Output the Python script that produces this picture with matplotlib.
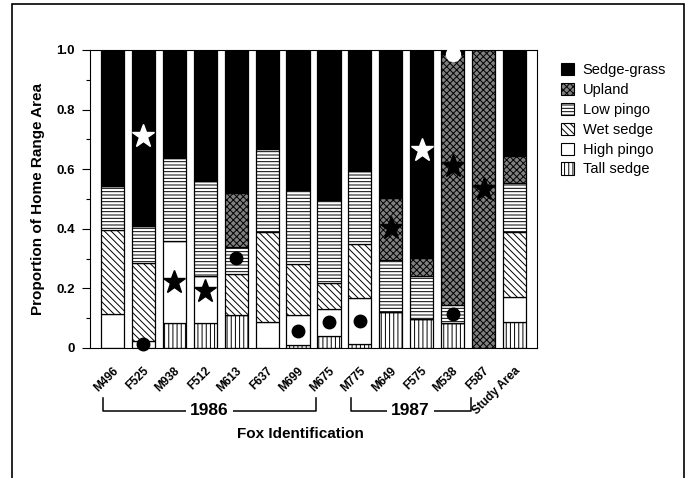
import matplotlib
matplotlib.use("Agg")
import matplotlib.pyplot as plt
from matplotlib.patches import Patch, Rectangle
import numpy as np

plt.rcParams['font.family'] = ['Liberation Sans', 'DejaVu Sans']
plt.rcParams['hatch.linewidth'] = 0.7

# fox ids along the x axis
foxes = ["M496", "F525", "M938", "F512", "M613", "F637", "M699", "M675",
         "M775", "M649", "F575", "M538", "F587", "Study Area"]

# proportion of home range in each habitat (bottom -> top)
tall_sedge  = [0.0, 0.0, 0.083, 0.083, 0.11, 0.0, 0.01, 0.041, 0.013, 0.122, 0.096, 0.085, 0.0, 0.088]
high_pingo  = [0.115, 0.025, 0.276, 0.159, 0.0, 0.088, 0.10, 0.089, 0.156, 0.0, 0.0, 0.0, 0.0, 0.084]
wet_sedge   = [0.28, 0.26, 0.0, 0.0, 0.14, 0.302, 0.172, 0.087, 0.18, 0.0, 0.0, 0.0, 0.0, 0.216]
low_pingo   = [0.15, 0.125, 0.28, 0.32, 0.09, 0.278, 0.248, 0.28, 0.245, 0.173, 0.146, 0.059, 0.0, 0.167]
upland      = [0.0, 0.0, 0.0, 0.0, 0.179, 0.0, 0.0, 0.0, 0.0, 0.209, 0.059, 0.841, 1.0, 0.089]
sedge_grass = [0.455, 0.59, 0.361, 0.438, 0.481, 0.332, 0.47, 0.503, 0.406, 0.496, 0.699, 0.015, 0.0, 0.356]

# symbols drawn on the bars: (bar index, y)
white_stars = [(1, 0.71), (10, 0.666)]
black_stars = [(2, 0.223), (3, 0.192), (9, 0.404), (11, 0.611), (12, 0.532)]
black_dots  = [(1, 0.013), (4, 0.302), (6, 0.057), (7, 0.088), (8, 0.09), (11, 0.114)]
white_dots  = [(11, 0.986)]

years = [("1986", 0, 7), ("1987", 8, 12)]

layers = [
    ("Tall sedge", tall_sedge, "white", "||||"),
    ("High pingo", high_pingo, "white", None),
    ("Wet sedge", wet_sedge, "white", "\\" * 5),
    ("Low pingo", low_pingo, "white", "-----"),
    ("Upland", upland, "0.5", "xxxxx"),
    ("Sedge-grass", sedge_grass, "black", None),
]

fig = plt.figure(figsize=(6.88, 4.78), dpi=100)
ax = fig.add_axes([90 / 688, 1 - 348 / 478, 447 / 688, 298 / 478])

x = np.arange(len(foxes))
bottom = np.zeros(len(foxes))
handles = {}
for name, vals, fc, hatch in layers:
    vals = np.array(vals)
    ax.bar(x, vals, 0.75, bottom=bottom, color=fc, edgecolor="black",
           linewidth=0.9, hatch=hatch)
    handles[name] = Patch(facecolor=fc, edgecolor="black", hatch=hatch, linewidth=0.8)
    bottom += vals

for i, y in white_stars:
    ax.plot(i, y, marker="*", ms=17, mfc="white", mec="white", zorder=5)
for i, y in black_stars:
    ax.plot(i, y, marker="*", ms=17, mfc="black", mec="black", zorder=5)
for i, y in black_dots:
    ax.plot(i, y, marker="o", ms=9, mfc="black", mec="black", zorder=5, clip_on=False)
for i, y in white_dots:
    ax.plot(i, y, marker="o", ms=10, mfc="white", mec="white", zorder=5, clip_on=False)

ax.set_xlim(-0.73, 13.73)
ax.set_ylim(0, 1.0)
ax.set_yticks([0, 0.2, 0.4, 0.6, 0.8, 1.0])
ax.set_yticklabels(["0", "0.2", "0.4", "0.6", "0.8", "1.0"], fontweight="bold", fontsize=9.5)
ax.set_yticks(np.arange(0.1, 1.0, 0.2), minor=True)
ax.tick_params(axis="y", which="major", length=6, width=0.8, direction="out", pad=5)
ax.tick_params(axis="y", which="minor", length=3, width=0.8, direction="out")
ax.set_xticks(x + 0.12)
ax.set_xticklabels(foxes, rotation=45, ha="right", va="center", rotation_mode="anchor",
                   fontweight="bold", fontsize=8.5)
ax.tick_params(axis="x", length=0, pad=15)
for s in ax.spines.values():
    s.set_linewidth(0.8)

ax.set_ylabel("Proportion of Home Range Area", fontweight="bold", fontsize=11)
ax.yaxis.set_label_coords(-0.10, 0.5)

# year brackets under the labels
tr = ax.get_xaxis_transform()
for yr, a, b in years:
    xa, xb = a - 0.3, b - 0.42
    ax.plot([xa, xa, xb, xb], [-0.168, -0.211, -0.211, -0.168], color="black",
            lw=1.1, transform=tr, clip_on=False)
    ax.text((xa + xb) / 2, -0.211, yr, transform=tr, ha="center", va="center",
            fontweight="bold", fontsize=12.5,
            bbox=dict(facecolor="white", edgecolor="none", pad=3))

fig.text(300 / 688, 1 - 434 / 478, "Fox Identification", ha="center", va="center",
         fontweight="bold", fontsize=11)

order = ["Sedge-grass", "Upland", "Low pingo", "Wet sedge", "High pingo", "Tall sedge"]
fig.legend([handles[n] for n in order], order, loc="upper left",
           bbox_to_anchor=(555 / 688, 1 - 57 / 478), frameon=False, fontsize=10.5,
           handlelength=0.9, handleheight=0.9, handletextpad=0.6, labelspacing=0.4,
           borderaxespad=0)

# outer frame (open at the bottom)
fig.add_artist(Rectangle((12 / 688, -0.1), 672 / 688, 1.1 - 4 / 478,
                         transform=fig.transFigure, fill=False, lw=1.2, edgecolor="black"))

fig.savefig("out.png", dpi=100)
